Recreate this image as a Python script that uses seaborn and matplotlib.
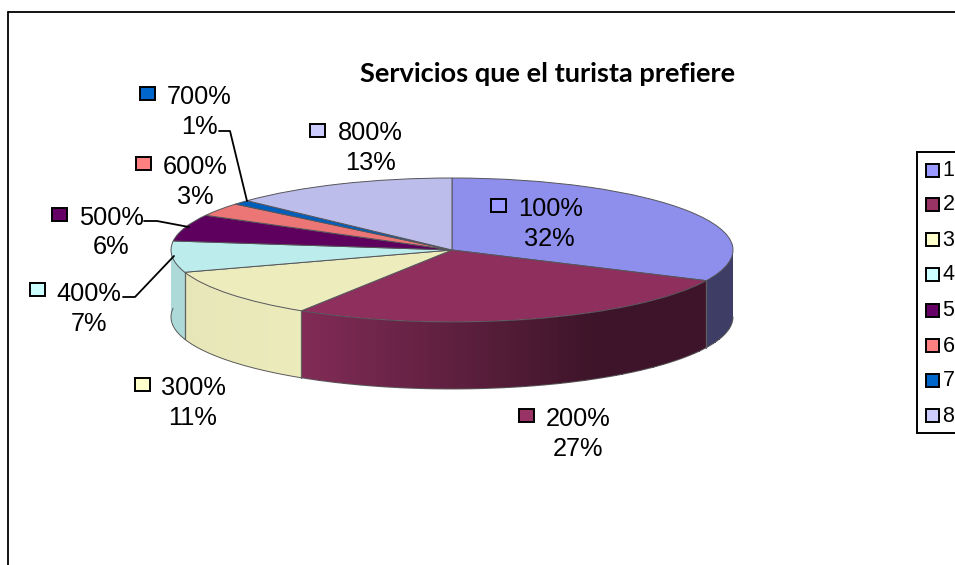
import numpy as np
import matplotlib
matplotlib.use("Agg")
import matplotlib.pyplot as plt
from matplotlib.patches import Rectangle
import seaborn as sns

# --- data ---
categories = ["100%", "200%", "300%", "400%", "500%", "600%", "700%", "800%"]
legend_labels = ["1", "2", "3", "4", "5", "6", "7", "8"]
shares = [32, 27, 11, 7, 6, 3, 1, 13]
title_text = "Servicios que el turista prefiere"
base_colors = ["#9999FF", "#993366", "#FFFFCC", "#CCFFFF",
               "#660066", "#FF8080", "#0066CC", "#CCCCFF"]

# --- layout (pixels in the 955x565 picture) ---
W, H = 955, 565
CX, CY, RX, RY, DEPTH = 452, 250, 281, 72, 67
label_pos = [(551, 207, 549, 237, 498, 205), (578, 417, 578, 447, 526, 415),
             (193, 386, 193, 416, 142, 384), (89, 292, 89, 322, 37, 289),
             (111, 216, 111, 245, 59, 214), (195, 165, 195, 195, 143, 163),
             (199, 95, 199, 125, 147, 93), (370, 131, 370, 161, 317, 130)]
leaders = {6: [(219, 131), (230, 131), (247, 201)],
           4: [(144, 221), (157, 221), (189, 227)],
           3: [(123, 297), (135, 297), (174, 256)]}
legend_y = [170, 204, 239, 274, 310, 345, 380, 415]
shade_angle = [90, 150, 180, 212.3, 212.5, 252, 252.2, 277]
shade_value = [.40, .40, .62, .85, .92, .90, .85, .85]

sns.set_theme(style="white")
plt.rcParams["font.family"] = ["Liberation Sans", "DejaVu Sans"]
palette = np.array(sns.color_palette(base_colors))
top_colors = palette * 0.925

fig = plt.figure(figsize=(W / 100, H / 100), dpi=100, facecolor="white")

# pie axes: one data unit = the ellipse radius on each axis
ax = fig.add_axes([0, 0, 1, 1])
depth = DEPTH / RY
edges = np.cumsum([0] + shares) / sum(shares) * 360  # clockwise from the top

for i, col in enumerate(palette):
    a0, a1 = max(edges[i], 90), min(edges[i + 1], 277)
    if a1 <= a0:
        continue
    ths = np.linspace(a0, a1, int((a1 - a0) / 0.5) + 2)
    tt = np.radians(ths)
    X = np.vstack([np.sin(tt), np.sin(tt)])
    Y = np.vstack([np.cos(tt), np.cos(tt) - depth])
    mids = (ths[:-1] + ths[1:]) / 2
    C = np.clip(col[None, None, :] * np.interp(mids, shade_angle, shade_value)[None, :, None], 0, 1)
    ax.pcolormesh(X, Y, C, shading="flat", antialiased=False, zorder=1)
    # lower rim
    tr = np.radians(np.linspace(a0, a1, 80))
    ax.plot(np.sin(tr), np.cos(tr) - depth, color="#5a5a5a", lw=0.7, zorder=2)

# vertical seams at the slice boundaries on the visible side
for e in edges[1:4]:
    t = np.radians(e)
    ax.plot([np.sin(t)] * 2, [np.cos(t), np.cos(t) - depth],
            color="#606060", lw=0.9, zorder=2)

wedges, _ = ax.pie(shares, colors=top_colors, startangle=90, counterclock=False,
                   radius=1, wedgeprops={"edgecolor": "#55555a", "linewidth": 0.7})
for w in wedges:
    w.set_zorder(3)
ax.set_aspect("auto")
ax.set_xlim(-CX / RX, (W - CX) / RX)
ax.set_ylim((CY - H) / RY, CY / RY)
ax.axis("off")

# overlay axes in picture pixels for frame, title, labels and legend
ov = fig.add_axes([0, 0, 1, 1], facecolor="none")
ov.set_xlim(0, W)
ov.set_ylim(H, 0)
ov.axis("off")

ov.plot([8, 8], [H, 12], color="black", lw=1.3)
ov.plot([8, W], [12, 12], color="black", lw=1.3)

ov.text(548, 74, title_text, ha="center", va="center", fontsize=19.6,
        fontweight="bold", family="Lato", color="black")

FS = 18.3
for i, (cat, s, pos) in enumerate(zip(categories, shares, label_pos)):
    tx, ty, px, py, sx, sy = pos
    ov.text(tx, ty + 2, cat, ha="center", va="center", fontsize=FS, color="black")
    ov.text(px, py + 2, f"{s}%", ha="center", va="center", fontsize=FS, color="black")
    ov.add_patch(Rectangle((sx - 7.5, sy - 6.5), 15, 13, facecolor=palette[i],
                           edgecolor="black", lw=1.4))

for pts in leaders.values():
    xs, ys = zip(*pts)
    ov.plot(xs, ys, color="black", lw=1.3)

# legend box runs past the right edge, as in the reference
ov.add_patch(Rectangle((917, 152), 60, 281, facecolor="white",
                       edgecolor="black", lw=1.4))
for lab, col, y in zip(legend_labels, palette, legend_y):
    ov.add_patch(Rectangle((925.5, y - 6.5), 13, 13, facecolor=col,
                           edgecolor="black", lw=1.4))
    ov.text(942.5, y + 1, lab, ha="left", va="center", fontsize=15.5, color="black")

fig.savefig("out.png", dpi=100)
